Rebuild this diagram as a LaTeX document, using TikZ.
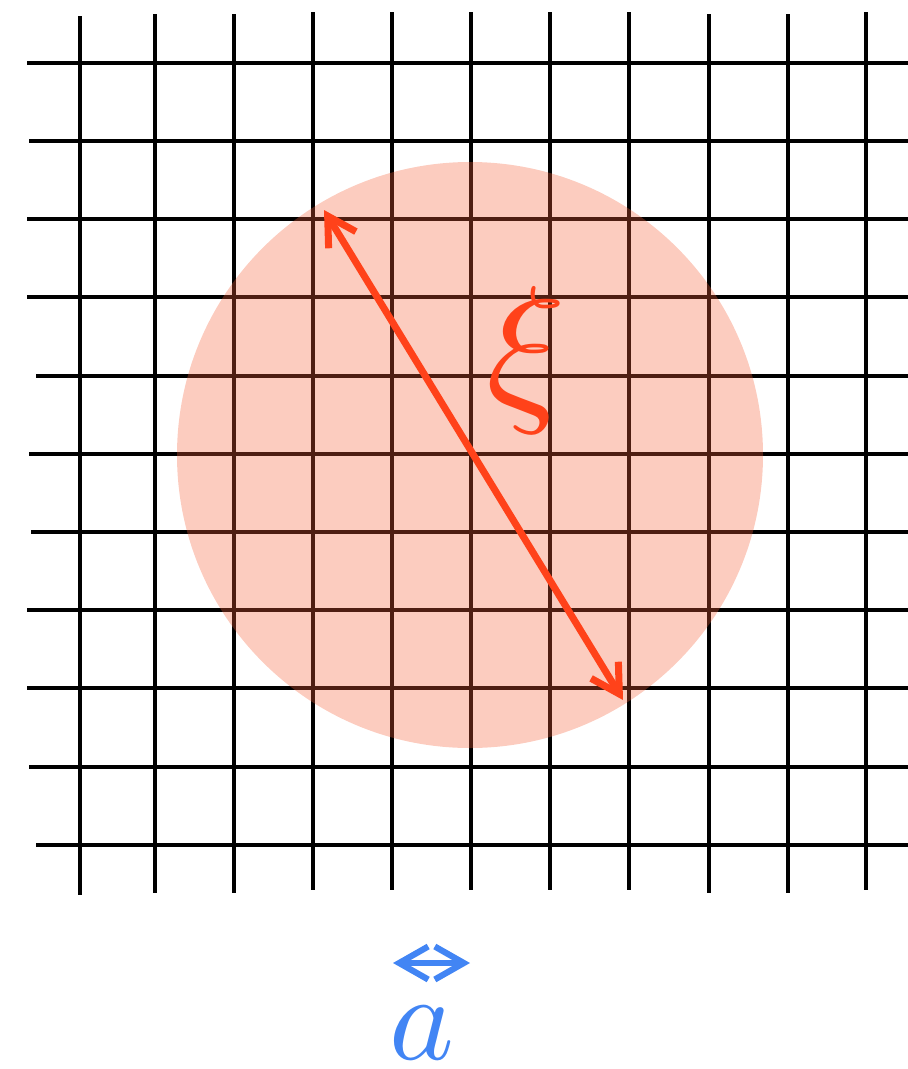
\documentclass[tikz,border=0pt]{standalone}
\usetikzlibrary{arrows.meta}
\definecolor{xired}{RGB}{255,66,26}
\definecolor{blobred}{RGB}{245,96,56}
\definecolor{latblue}{RGB}{66,133,244}

\begin{document}
\begin{tikzpicture}[x=0.02cm,y=-0.02cm,
    >={Straight Barb[length=0.56cm,width=0.64cm]},
    lattice/.style={line width=2.3pt}]
  \useasboundingbox (0,0) rectangle (908,1069);
  % lattice
  \foreach \x/\t/\b in {80/16/895,155/14/893,234/14/893,313/12/890,392/12/890,
      471/12/890,550/12/890,629/12/890,709/14/893,788/14/893,866/12/890}
    \draw[lattice] (\x,\t) -- (\x,\b);
  \foreach \y/\l in {63/27,141/29,219/27,297/27,376/36,454/29,532/31,610/27,
      688/27,767/29,845/36}
    \draw[lattice] (\l,\y) -- (908,\y);
  % correlation blob
  \fill[blobred,opacity=0.32] (470,455) circle[radius=293];
  \coordinate (xitop) at (324,210);
  \coordinate (xibot) at (623,700);
  \draw[<->,xired,line width=4pt] (xitop) -- (xibot);
  \node[xired,scale=9.4,inner sep=0pt] (xi) at (526,360) {$\xi$};
  % lattice spacing
  \coordinate (aleft) at (393,963);
  \coordinate (aright) at (470,963);
  \draw[<->,latblue,line width=3.5pt,>={Straight Barb[length=0.58cm,width=0.66cm]}]
    (aleft) -- (aright);
  \node[latblue,scale=7,inner sep=0pt] (a) at (422,1033) {$a$};
\end{tikzpicture}
\end{document}
